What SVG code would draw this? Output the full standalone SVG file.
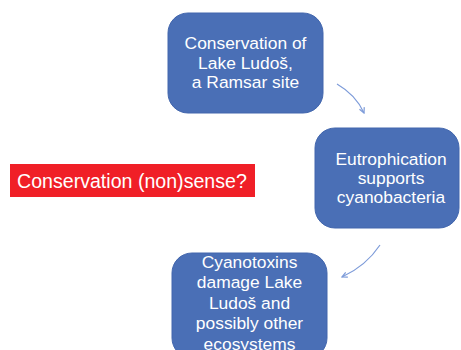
<svg xmlns="http://www.w3.org/2000/svg" width="461" height="350" viewBox="0 0 461 350">
<style>
.box{fill:#4a6fb6;stroke:#4266ad;stroke-width:1}
.bt{font-family:"Liberation Sans",Arial,sans-serif;font-size:17.4px;fill:#ffffff;text-anchor:middle}
.conn{fill:none;stroke:#7d9bd9;stroke-width:1.2}
</style>
<defs>
<marker id="ah" viewBox="0 0 8 8" refX="7" refY="4" markerWidth="7" markerHeight="7" markerUnits="userSpaceOnUse" orient="auto">
<path d="M1,1 L7,4 L1,7" fill="none" stroke="#7d9bd9" stroke-width="1.4"/>
</marker>
</defs>
<rect width="461" height="350" fill="#ffffff"/>
<g id="title">
<rect x="10" y="164" width="245" height="33" fill="#f01f27"/>
<text x="17" y="187.5" font-family="'Liberation Sans',Arial,sans-serif" font-size="19.6px" fill="#ffffff">Conservation (non)sense?</text>
</g>
<g id="node1">
<rect class="box" x="168" y="13" width="155" height="100" rx="20"/>
<text class="bt" x="245.5" y="49">Conservation of</text>
<text class="bt" x="245.5" y="68.5">Lake Ludoš,</text>
<text class="bt" x="245.5" y="88">a Ramsar site</text>
</g>
<g id="node2">
<rect class="box" x="315" y="128" width="144" height="100" rx="20"/>
<text class="bt" x="391" y="165">Eutrophication</text>
<text class="bt" x="391" y="184">supports</text>
<text class="bt" x="391" y="203">cyanobacteria</text>
</g>
<g id="node3">
<rect class="box" x="172" y="253" width="155" height="105" rx="20"/>
<text class="bt" x="249.5" y="267.7">Cyanotoxins</text>
<text class="bt" x="249.5" y="288.1">damage Lake</text>
<text class="bt" x="249.5" y="308.6">Ludoš and</text>
<text class="bt" x="249.5" y="329">possibly other</text>
<text class="bt" x="249.5" y="349.5">ecosystems</text>
</g>
<g id="connectors">
<path class="conn" d="M337,84 Q356,95 364,113" marker-end="url(#ah)"/>
<path class="conn" d="M380,245 Q366,266 342,277" marker-end="url(#ah)"/>
</g>
</svg>
